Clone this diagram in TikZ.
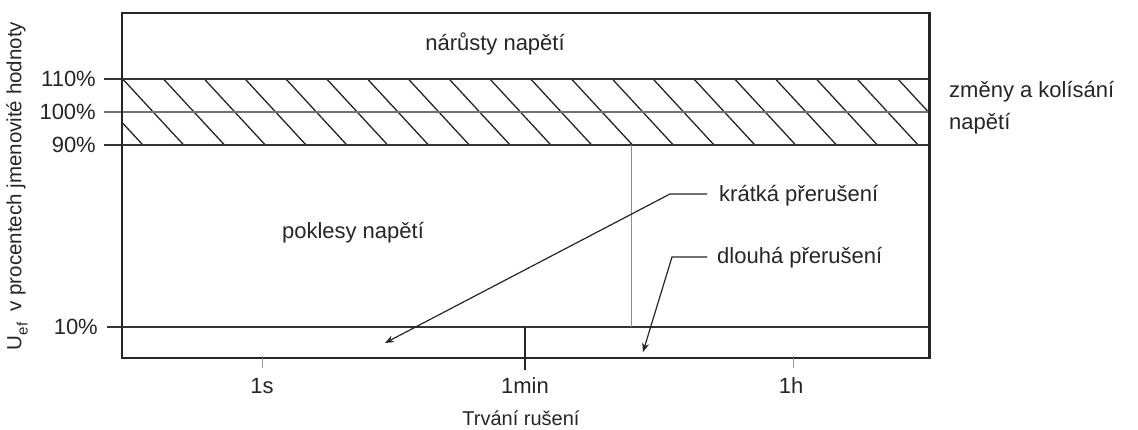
\documentclass[tikz,border=0pt]{standalone}
\usepackage{fontspec}
\setmainfont{Liberation Sans}
\usetikzlibrary{arrows.meta}
\begin{document}
\begin{tikzpicture}[x=1pt,y=-1pt,
  lbl/.style={font=\fontsize{22}{32}\selectfont, inner sep=0pt, text=black!85},
  pct/.style={lbl, anchor=east},
  frame/.style={draw=black!85, line width=2pt},
  level/.style={draw=black!80, line width=1.6pt},
  midlevel/.style={draw=black!55, line width=1.2pt},
  hatch/.style={draw=black!85, line width=1.3pt},
  thinv/.style={draw=black!45, line width=1pt},
  pointer/.style={draw=black!85, line width=1.2pt, -{Stealth[length=9pt,width=7pt]}},
  tick/.style={draw=black!40, line width=0.8pt}]
\useasboundingbox (0,0) rectangle (1138,430);
\fill[white] (0,0) rectangle (1138,430);

% hatched band
\begin{scope}
  \clip (122,79) rectangle (929,145);
  \foreach \k in {-2,...,20} {
    \draw[hatch] (122.7+40.8*\k,79) -- ++(61,66);
  }
\end{scope}

% level lines
\draw[level] (104,79) -- (929,79);
\draw[midlevel] (104,112) -- (929,112);
\draw[level] (104,145) -- (929,145);
\draw[level] (107,327) -- (929,327);

% vertical separator
\draw[thinv] (631,145) -- (631,327);

% frame
\draw[frame] (122,13) rectangle (929,358);
\draw[black!85, line width=3pt] (929,12) -- (929,359);

% ticks
\draw[tick] (262,358) -- (262,368);
\draw[black!85, line width=2pt] (525,327) -- (525,370);
\draw[tick] (793,358) -- (793,368);

% percent labels
\node[pct] (p110) at (96,79) {110\%};
\node[pct] (p100) at (96,112) {100\%};
\node[pct] (p90) at (96,145) {90\%};
\node[pct] (p10) at (98,327) {10\%};

% region labels
\node[lbl] (narust) at (495,44) {nárůsty napětí};
\node[lbl] (pokles) at (353,233) {poklesy napětí};
\node[lbl, anchor=west] (kratka) at (719,196) {krátká přerušení};
\node[lbl, anchor=west] (dlouha) at (717,258) {dlouhá přerušení};
\node[lbl, anchor=west, align=left] (zmeny) at (949,108) {změny a kolísání\\napětí};

% axis labels
\node[lbl] (t1s) at (262,386) {1s};
\node[lbl] (t1min) at (525,386) {1min};
\node[lbl] (t1h) at (791,386) {1h};
\node[lbl, font=\fontsize{20}{24}\selectfont] (xlab) at (521,418) {Trvání rušení};
\node[lbl, font=\fontsize{20.5}{24}\selectfont, rotate=90] (ylab) at (17,186)
  {U\raisebox{-0.3em}{\fontsize{15}{18}\selectfont ef}\ \ v procentech jmenovité hodnoty};

% pointers
\coordinate (ktip) at (385,343);
\coordinate (dtip) at (643,352);
\draw[pointer] ([xshift=-12pt,yshift=2pt]kratka.west) -- ++(-37,0) -- (ktip);
\draw[pointer] ([xshift=-10pt,yshift=1pt]dlouha.west) -- ++(-35,0) -- (dtip);
\end{tikzpicture}
\end{document}
